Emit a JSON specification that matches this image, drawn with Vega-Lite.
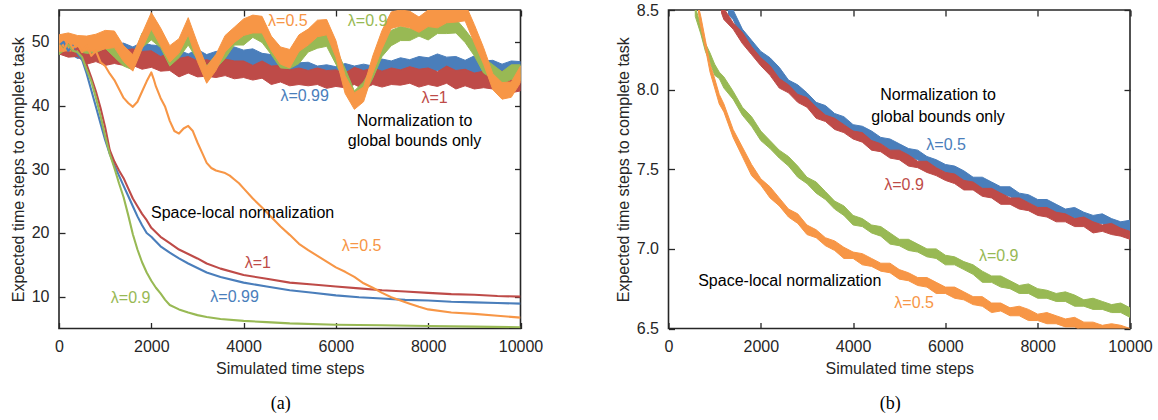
{
  "$schema": "https://vega.github.io/schema/vega-lite/v6.json",
  "padding": {"left": 9, "top": 1, "right": 0, "bottom": 0},
  "background": "white",
  "config": {
    "view": {"stroke": "#262626", "strokeWidth": 1.6},
    "font": "Liberation Sans",
    "axis": {
      "labelFont": "Liberation Sans", "labelFontSize": 16, "labelColor": "#262626",
      "titleFont": "Liberation Sans", "titleFontSize": 16, "titleFontWeight": "normal", "titleColor": "#262626",
      "domain": false, "grid": false, "tickColor": "#262626", "tickSize": -6, "tickWidth": 1.3,
      "labelPadding": 16, "labelFlush": false, "labelOverlap": false
    },
    "text": {"font": "Liberation Sans", "fontSize": 16, "align": "center", "baseline": "middle"}
  },
  "resolve": {"scale": {"color": "independent", "stroke": "independent"}},
  "hconcat": [
    {
      "width": 461.5, "height": 318.5,
      "title": {"text": "(a)", "orient": "bottom", "font": "Liberation Serif", "fontSize": 18, "fontWeight": "normal", "color": "black", "offset": 18, "dx": -9},
      "resolve": {"axis": {"x": "independent", "y": "independent"}},
      "layer": [
        {
          "encoding": {
            "x": {"field": "x", "type": "quantitative", "scale": {"domain": [0, 10000], "nice": false, "zero": false},
                  "axis": {"values": [0, 2000, 4000, 6000, 8000, 10000], "format": "d", "titlePadding": 6}, "title": "Simulated time steps"},
            "y": {"field": "y", "type": "quantitative", "scale": {"domain": [5, 55], "nice": false, "zero": false},
                  "axis": {"values": [10, 20, 30, 40, 50], "titlePadding": 5}, "title": "Expected time steps to complete task"}
          },
          "layer": [
            {
              "data": {"name": "leftBands"},
              "mark": {"type": "area", "clip": true, "strokeWidth": 1, "strokeJoin": "round"},
              "encoding": {
                "y2": {"field": "hi"},
                "color": {"field": "s", "type": "nominal", "legend": null,
                  "scale": {"domain": ["g0.99", "g1", "g0.9", "g0.5", "l0.99", "l1", "l0.9", "l0.5"], "range": ["#4a7ebb", "#be4b48", "#98b954", "#f79646", "#4a7ebb", "#be4b48", "#98b954", "#f79646"]}},
                "stroke": {"field": "s", "type": "nominal", "legend": null,
                  "scale": {"domain": ["g0.99", "g1", "g0.9", "g0.5", "l0.99", "l1", "l0.9", "l0.5"], "range": ["#4a7ebb", "#be4b48", "#98b954", "#f79646", "#4a7ebb", "#be4b48", "#98b954", "#f79646"]}}
              }
            },
            {
              "data": {"name": "leftLocal"},
              "mark": {"type": "line", "clip": true, "strokeWidth": 2.1, "strokeJoin": "round"},
              "encoding": {
                "color": {"field": "s", "type": "nominal", "legend": null,
                  "scale": {"domain": ["g0.99", "g1", "g0.9", "g0.5", "l0.99", "l1", "l0.9", "l0.5"], "range": ["#4a7ebb", "#be4b48", "#98b954", "#f79646", "#4a7ebb", "#be4b48", "#98b954", "#f79646"]}}
              }
            },
            {
              "data": {"name": "leftLabels"},
              "mark": {"type": "text"},
              "encoding": {
                "text": {"field": "t"},
                "color": {"field": "s", "type": "nominal", "legend": null,
                  "scale": {"domain": ["g0.99", "g1", "g0.9", "g0.5", "l0.99", "l1", "l0.9", "l0.5"], "range": ["#4a7ebb", "#be4b48", "#98b954", "#f79646", "#4a7ebb", "#be4b48", "#98b954", "#f79646"]}}
              }
            },
            {
              "data": {"name": "leftNotes"},
              "mark": {"type": "text", "color": "black"},
              "encoding": {"text": {"field": "t"}}
            }
          ]
        },
        {
          "data": {"name": "leftNotes"},
          "mark": {"type": "point", "opacity": 0},
          "encoding": {
            "x": {"field": "x", "type": "quantitative", "scale": {"domain": [0, 10000], "nice": false, "zero": false},
                  "axis": {"orient": "top", "values": [0, 2000, 4000, 6000, 8000, 10000], "labels": false, "title": null}},
            "y": {"field": "y", "type": "quantitative", "scale": {"domain": [5, 55], "nice": false, "zero": false},
                  "axis": {"orient": "right", "values": [10, 20, 30, 40, 50], "labels": false, "title": null}}
          }
        }
      ]
    },
    {
      "width": 461.5, "height": 318.5,
      "title": {"text": "(b)", "orient": "bottom", "font": "Liberation Serif", "fontSize": 18, "fontWeight": "normal", "color": "black", "offset": 18, "dx": -9},
      "resolve": {"axis": {"x": "independent", "y": "independent"}},
      "layer": [
        {
          "encoding": {
            "x": {"field": "x", "type": "quantitative", "scale": {"domain": [0, 10000], "nice": false, "zero": false},
                  "axis": {"values": [0, 2000, 4000, 6000, 8000, 10000], "format": "d", "titlePadding": 6}, "title": "Simulated time steps"},
            "y": {"field": "y", "type": "quantitative", "scale": {"domain": [6.5, 8.5], "nice": false, "zero": false},
                  "axis": {"values": [6.5, 7, 7.5, 8, 8.5], "format": ".1f", "titlePadding": 5}, "title": "Expected time steps to complete task"}
          },
          "layer": [
            {
              "data": {"name": "rightBands"},
              "mark": {"type": "area", "clip": true, "strokeWidth": 1, "strokeJoin": "round"},
              "encoding": {
                "y2": {"field": "hi"},
                "color": {"field": "s", "type": "nominal", "legend": null,
                  "scale": {"domain": ["g0.5", "g0.9", "l0.9", "l0.5"], "range": ["#4a7ebb", "#be4b48", "#98b954", "#f79646"]}},
                "stroke": {"field": "s", "type": "nominal", "legend": null,
                  "scale": {"domain": ["g0.5", "g0.9", "l0.9", "l0.5"], "range": ["#4a7ebb", "#be4b48", "#98b954", "#f79646"]}}
              }
            },
            {
              "data": {"name": "rightLabels"},
              "mark": {"type": "text"},
              "encoding": {
                "text": {"field": "t"},
                "color": {"field": "s", "type": "nominal", "legend": null,
                  "scale": {"domain": ["g0.5", "g0.9", "l0.9", "l0.5"], "range": ["#4a7ebb", "#be4b48", "#98b954", "#f79646"]}}
              }
            },
            {
              "data": {"name": "rightNotes"},
              "mark": {"type": "text", "color": "black"},
              "encoding": {"text": {"field": "t"}}
            }
          ]
        },
        {
          "data": {"name": "rightNotes"},
          "mark": {"type": "point", "opacity": 0},
          "encoding": {
            "x": {"field": "x", "type": "quantitative", "scale": {"domain": [0, 10000], "nice": false, "zero": false},
                  "axis": {"orient": "top", "values": [0, 2000, 4000, 6000, 8000, 10000], "labels": false, "title": null}},
            "y": {"field": "y", "type": "quantitative", "scale": {"domain": [6.5, 8.5], "nice": false, "zero": false},
                  "axis": {"orient": "right", "values": [6.5, 7, 7.5, 8, 8.5], "labels": false, "title": null}}
          }
        }
      ]
    }
  ],
  "spacing": 147.5,
  "bounds": "flush",
  "datasets": {
    "leftNotes": [
      {"t": "Normalization to", "x": 7705, "y": 37.6},
      {"t": "global bounds only", "x": 7705, "y": 34.4},
      {"t": "Space-local normalization", "x": 3978, "y": 23.1}
    ],
    "leftLabels": [
      {"s": "g0.5", "t": "λ=0.5", "x": 4960, "y": 53.2},
      {"s": "g0.9", "t": "λ=0.9", "x": 6687, "y": 53.2},
      {"s": "g0.99", "t": "λ=0.99", "x": 5322, "y": 41.5},
      {"s": "g1", "t": "λ=1", "x": 8139, "y": 41.2},
      {"s": "l0.5", "t": "λ=0.5", "x": 6557, "y": 18.0},
      {"s": "l1", "t": "λ=1", "x": 4308, "y": 15.3},
      {"s": "l0.99", "t": "λ=0.99", "x": 3805, "y": 9.9},
      {"s": "l0.9", "t": "λ=0.9", "x": 1551, "y": 9.8}
    ],
    "rightNotes": [
      {"t": "Normalization to", "x": 5840, "y": 7.965},
      {"t": "global bounds only", "x": 5840, "y": 7.83},
      {"t": "Space-local normalization", "x": 2628, "y": 6.8}
    ],
    "rightLabels": [
      {"s": "g0.5", "t": "λ=0.5", "x": 6015, "y": 7.655},
      {"s": "g0.9", "t": "λ=0.9", "x": 5103, "y": 7.4},
      {"s": "l0.9", "t": "λ=0.9", "x": 7155, "y": 6.955},
      {"s": "l0.5", "t": "λ=0.5", "x": 5322, "y": 6.66}
    ],
    "leftBands": [
      {"s":"g0.99","x":0,"y":48.2,"hi":50.6},{"s":"g0.99","x":200,"y":48.3,"hi":50.9},{"s":"g0.99","x":400,"y":47.4,"hi":50.2},{"s":"g0.99","x":600,"y":47.6,"hi":50.2},{"s":"g0.99","x":800,"y":47.2,"hi":49.5},{"s":"g0.99","x":1000,"y":47.7,"hi":50.4},{"s":"g0.99","x":1200,"y":46.8,"hi":49.7},{"s":"g0.99","x":1400,"y":47.2,"hi":49.8},{"s":"g0.99","x":1600,"y":46.7,"hi":49.2},{"s":"g0.99","x":1800,"y":47.3,"hi":49.9},
      {"s":"g0.99","x":2000,"y":47.1,"hi":49.5},{"s":"g0.99","x":2200,"y":46.8,"hi":49.4},{"s":"g0.99","x":2400,"y":45.8,"hi":48.6},{"s":"g0.99","x":2600,"y":46.1,"hi":48.7},{"s":"g0.99","x":2800,"y":45.8,"hi":48.1},{"s":"g0.99","x":3000,"y":46.1,"hi":48.8},{"s":"g0.99","x":3200,"y":45.1,"hi":48.0},{"s":"g0.99","x":3400,"y":45.9,"hi":48.5},{"s":"g0.99","x":3600,"y":46.0,"hi":48.5},{"s":"g0.99","x":3800,"y":46.6,"hi":49.2},
      {"s":"g0.99","x":4000,"y":46.3,"hi":48.7},{"s":"g0.99","x":4200,"y":46.3,"hi":48.9},{"s":"g0.99","x":4400,"y":45.4,"hi":48.2},{"s":"g0.99","x":4600,"y":45.4,"hi":48.0},{"s":"g0.99","x":4800,"y":44.8,"hi":47.1},{"s":"g0.99","x":5000,"y":44.9,"hi":47.6},{"s":"g0.99","x":5200,"y":43.8,"hi":46.7},{"s":"g0.99","x":5400,"y":44.2,"hi":46.8},{"s":"g0.99","x":5600,"y":43.7,"hi":46.2},{"s":"g0.99","x":5800,"y":43.8,"hi":46.4},
      {"s":"g0.99","x":6000,"y":43.7,"hi":46.1},{"s":"g0.99","x":6200,"y":44.0,"hi":46.6},{"s":"g0.99","x":6400,"y":43.4,"hi":46.2},{"s":"g0.99","x":6600,"y":43.9,"hi":46.5},{"s":"g0.99","x":6800,"y":43.9,"hi":46.2},{"s":"g0.99","x":7000,"y":44.6,"hi":47.3},{"s":"g0.99","x":7200,"y":44.1,"hi":47.0},{"s":"g0.99","x":7400,"y":44.9,"hi":47.5},{"s":"g0.99","x":7600,"y":44.7,"hi":47.2},{"s":"g0.99","x":7800,"y":45.1,"hi":47.7},
      {"s":"g0.99","x":8000,"y":45.1,"hi":47.5},{"s":"g0.99","x":8200,"y":45.5,"hi":48.1},{"s":"g0.99","x":8400,"y":44.8,"hi":47.6},{"s":"g0.99","x":8600,"y":45.1,"hi":47.7},{"s":"g0.99","x":8800,"y":44.8,"hi":47.1},{"s":"g0.99","x":9000,"y":45.1,"hi":47.8},{"s":"g0.99","x":9200,"y":44.1,"hi":47.0},{"s":"g0.99","x":9400,"y":44.5,"hi":47.1},{"s":"g0.99","x":9600,"y":44.0,"hi":46.5},{"s":"g0.99","x":9800,"y":44.4,"hi":47.0},{"s":"g0.99","x":10000,"y":44.5,"hi":46.9},
      {"s":"g1","x":0,"y":48.1,"hi":50.7},{"s":"g1","x":200,"y":47.6,"hi":49.9},{"s":"g1","x":400,"y":47.7,"hi":50.4},{"s":"g1","x":600,"y":46.5,"hi":49.4},{"s":"g1","x":800,"y":46.9,"hi":49.5},{"s":"g1","x":1000,"y":46.3,"hi":48.8},{"s":"g1","x":1200,"y":46.6,"hi":49.2},{"s":"g1","x":1400,"y":46.3,"hi":48.7},{"s":"g1","x":1600,"y":46.3,"hi":48.9},{"s":"g1","x":1800,"y":45.7,"hi":48.5},
      {"s":"g1","x":2000,"y":46.0,"hi":48.6},{"s":"g1","x":2200,"y":45.4,"hi":47.7},{"s":"g1","x":2400,"y":45.5,"hi":48.2},{"s":"g1","x":2600,"y":44.5,"hi":47.4},{"s":"g1","x":2800,"y":45.1,"hi":47.7},{"s":"g1","x":3000,"y":44.5,"hi":47.0},{"s":"g1","x":3200,"y":44.6,"hi":47.2},{"s":"g1","x":3400,"y":44.4,"hi":46.8},{"s":"g1","x":3600,"y":44.7,"hi":47.3},{"s":"g1","x":3800,"y":44.2,"hi":47.0},
      {"s":"g1","x":4000,"y":44.4,"hi":47.0},{"s":"g1","x":4200,"y":44.0,"hi":46.3},{"s":"g1","x":4400,"y":44.3,"hi":47.0},{"s":"g1","x":4600,"y":43.3,"hi":46.2},{"s":"g1","x":4800,"y":43.7,"hi":46.3},{"s":"g1","x":5000,"y":43.1,"hi":45.6},{"s":"g1","x":5200,"y":43.3,"hi":45.9},{"s":"g1","x":5400,"y":43.1,"hi":45.5},{"s":"g1","x":5600,"y":43.3,"hi":45.9},{"s":"g1","x":5800,"y":42.7,"hi":45.5},
      {"s":"g1","x":6000,"y":43.0,"hi":45.6},{"s":"g1","x":6200,"y":42.8,"hi":45.1},{"s":"g1","x":6400,"y":43.3,"hi":46.0},{"s":"g1","x":6600,"y":42.6,"hi":45.5},{"s":"g1","x":6800,"y":43.3,"hi":45.9},{"s":"g1","x":7000,"y":42.9,"hi":45.4},{"s":"g1","x":7200,"y":43.3,"hi":45.9},{"s":"g1","x":7400,"y":43.2,"hi":45.6},{"s":"g1","x":7600,"y":43.5,"hi":46.1},{"s":"g1","x":7800,"y":42.9,"hi":45.7},
      {"s":"g1","x":8000,"y":43.3,"hi":45.9},{"s":"g1","x":8200,"y":43.0,"hi":45.3},{"s":"g1","x":8400,"y":43.5,"hi":46.2},{"s":"g1","x":8600,"y":42.6,"hi":45.5},{"s":"g1","x":8800,"y":43.1,"hi":45.7},{"s":"g1","x":9000,"y":42.6,"hi":45.1},{"s":"g1","x":9200,"y":42.8,"hi":45.4},{"s":"g1","x":9400,"y":42.6,"hi":45.0},{"s":"g1","x":9600,"y":42.8,"hi":45.4},{"s":"g1","x":9800,"y":42.0,"hi":44.8},{"s":"g1","x":10000,"y":42.3,"hi":44.9},
      {"s":"g0.9","x":0,"y":48.0,"hi":50.5},{"s":"g0.9","x":200,"y":49.1,"hi":51.3},{"s":"g0.9","x":400,"y":48.5,"hi":50.6},{"s":"g0.9","x":600,"y":48.2,"hi":50.4},{"s":"g0.9","x":800,"y":48.3,"hi":50.3},{"s":"g0.9","x":1000,"y":49.0,"hi":51.2},{"s":"g0.9","x":1200,"y":47.6,"hi":50.0},{"s":"g0.9","x":1400,"y":46.2,"hi":48.4},{"s":"g0.9","x":1600,"y":45.6,"hi":47.5},{"s":"g0.9","x":1800,"y":49.1,"hi":51.4},
      {"s":"g0.9","x":2000,"y":50.3,"hi":52.8},{"s":"g0.9","x":2200,"y":49.1,"hi":51.3},{"s":"g0.9","x":2400,"y":46.2,"hi":48.3},{"s":"g0.9","x":2600,"y":47.5,"hi":49.7},{"s":"g0.9","x":2800,"y":49.5,"hi":51.5},{"s":"g0.9","x":3000,"y":47.2,"hi":49.4},{"s":"g0.9","x":3200,"y":43.8,"hi":46.2},{"s":"g0.9","x":3400,"y":45.8,"hi":48.0},{"s":"g0.9","x":3600,"y":47.4,"hi":49.3},{"s":"g0.9","x":3800,"y":49.5,"hi":51.8},
      {"s":"g0.9","x":4000,"y":49.5,"hi":52.0},{"s":"g0.9","x":4200,"y":50.7,"hi":52.9},{"s":"g0.9","x":4400,"y":49.9,"hi":52.0},{"s":"g0.9","x":4600,"y":48.0,"hi":50.2},{"s":"g0.9","x":4800,"y":45.9,"hi":47.9},{"s":"g0.9","x":5000,"y":45.8,"hi":48.0},{"s":"g0.9","x":5200,"y":46.6,"hi":49.0},{"s":"g0.9","x":5400,"y":48.4,"hi":50.6},{"s":"g0.9","x":5600,"y":49.0,"hi":50.9},{"s":"g0.9","x":5800,"y":49.3,"hi":51.6},
      {"s":"g0.9","x":6000,"y":46.5,"hi":49.0},{"s":"g0.9","x":6200,"y":43.6,"hi":45.8},{"s":"g0.9","x":6400,"y":40.2,"hi":42.3},{"s":"g0.9","x":6600,"y":41.5,"hi":43.7},{"s":"g0.9","x":6800,"y":44.3,"hi":46.3},{"s":"g0.9","x":7000,"y":47.7,"hi":49.9},{"s":"g0.9","x":7200,"y":49.4,"hi":51.8},{"s":"g0.9","x":7400,"y":50.2,"hi":52.4},{"s":"g0.9","x":7600,"y":50.2,"hi":52.1},{"s":"g0.9","x":7800,"y":50.9,"hi":53.2},
      {"s":"g0.9","x":8000,"y":50.3,"hi":52.8},{"s":"g0.9","x":8200,"y":51.3,"hi":53.5},{"s":"g0.9","x":8400,"y":51.3,"hi":53.4},{"s":"g0.9","x":8600,"y":51.4,"hi":53.6},{"s":"g0.9","x":8800,"y":49.9,"hi":51.9},{"s":"g0.9","x":9000,"y":47.8,"hi":50.0},{"s":"g0.9","x":9200,"y":45.1,"hi":47.5},{"s":"g0.9","x":9400,"y":44.2,"hi":46.4},{"s":"g0.9","x":9600,"y":43.4,"hi":45.3},{"s":"g0.9","x":9800,"y":44.1,"hi":46.4},{"s":"g0.9","x":10000,"y":43.9,"hi":46.4},
      {"s":"g0.5","x":0,"y":48.5,"hi":51.1},{"s":"g0.5","x":200,"y":48.6,"hi":51.4},{"s":"g0.5","x":400,"y":48.4,"hi":51.0},{"s":"g0.5","x":600,"y":48.6,"hi":50.9},{"s":"g0.5","x":800,"y":48.5,"hi":51.2},{"s":"g0.5","x":1000,"y":48.9,"hi":51.8},{"s":"g0.5","x":1200,"y":49.1,"hi":51.7},{"s":"g0.5","x":1400,"y":46.9,"hi":49.4},{"s":"g0.5","x":1600,"y":45.4,"hi":48.0},{"s":"g0.5","x":1800,"y":48.9,"hi":51.3},
      {"s":"g0.5","x":2000,"y":52.0,"hi":54.6},{"s":"g0.5","x":2200,"y":49.4,"hi":52.2},{"s":"g0.5","x":2400,"y":46.8,"hi":49.4},{"s":"g0.5","x":2600,"y":48.2,"hi":50.5},{"s":"g0.5","x":2800,"y":51.1,"hi":53.8},{"s":"g0.5","x":3000,"y":46.9,"hi":49.8},{"s":"g0.5","x":3200,"y":43.5,"hi":46.1},{"s":"g0.5","x":3400,"y":45.5,"hi":48.0},{"s":"g0.5","x":3600,"y":48.4,"hi":51.0},{"s":"g0.5","x":3800,"y":49.9,"hi":52.3},
      {"s":"g0.5","x":4000,"y":51.0,"hi":53.6},{"s":"g0.5","x":4200,"y":51.4,"hi":54.2},{"s":"g0.5","x":4400,"y":51.4,"hi":54.0},{"s":"g0.5","x":4600,"y":48.6,"hi":50.9},{"s":"g0.5","x":4800,"y":46.5,"hi":49.2},{"s":"g0.5","x":5000,"y":45.9,"hi":48.8},{"s":"g0.5","x":5200,"y":48.5,"hi":51.1},{"s":"g0.5","x":5400,"y":49.5,"hi":52.0},{"s":"g0.5","x":5600,"y":50.8,"hi":53.4},{"s":"g0.5","x":5800,"y":51.1,"hi":53.5},
      {"s":"g0.5","x":6000,"y":47.6,"hi":50.2},{"s":"g0.5","x":6200,"y":41.9,"hi":44.7},{"s":"g0.5","x":6400,"y":39.4,"hi":42.0},{"s":"g0.5","x":6600,"y":40.6,"hi":42.9},{"s":"g0.5","x":6800,"y":45.1,"hi":47.8},{"s":"g0.5","x":7000,"y":48.9,"hi":51.8},{"s":"g0.5","x":7200,"y":52.1,"hi":54.7},{"s":"g0.5","x":7400,"y":52.5,"hi":55.0},{"s":"g0.5","x":7600,"y":52.2,"hi":54.8},{"s":"g0.5","x":7800,"y":51.5,"hi":53.9},
      {"s":"g0.5","x":8000,"y":52.4,"hi":55.0},{"s":"g0.5","x":8200,"y":52.2,"hi":55.0},{"s":"g0.5","x":8400,"y":53.0,"hi":55.6},{"s":"g0.5","x":8600,"y":53.1,"hi":55.4},{"s":"g0.5","x":8800,"y":53.3,"hi":56.0},{"s":"g0.5","x":9000,"y":49.8,"hi":52.7},{"s":"g0.5","x":9200,"y":46.5,"hi":49.1},{"s":"g0.5","x":9400,"y":42.5,"hi":45.0},{"s":"g0.5","x":9600,"y":41.0,"hi":43.6},{"s":"g0.5","x":9800,"y":41.3,"hi":43.7},{"s":"g0.5","x":10000,"y":43.6,"hi":46.2}
    ],
    "leftLocal": [
      {"s":"l0.99","x":0,"y":49.4},{"s":"l0.99","x":100,"y":50.0},{"s":"l0.99","x":200,"y":48.6},{"s":"l0.99","x":300,"y":49.4},{"s":"l0.99","x":400,"y":48.2},{"s":"l0.99","x":500,"y":47.2},{"s":"l0.99","x":600,"y":45.0},{"s":"l0.99","x":700,"y":42.4},{"s":"l0.99","x":800,"y":39.8},{"s":"l0.99","x":900,"y":37.2},{"s":"l0.99","x":1000,"y":34.6},{"s":"l0.99","x":1100,"y":32.4},{"s":"l0.99","x":1200,"y":30.6},{"s":"l0.99","x":1300,"y":29.0},{"s":"l0.99","x":1400,"y":27.4},{"s":"l0.99","x":1500,"y":25.8},{"s":"l0.99","x":1600,"y":24.2},{"s":"l0.99","x":1700,"y":22.6},{"s":"l0.99","x":1800,"y":21.2},{"s":"l0.99","x":1900,"y":20.0},{"s":"l0.99","x":2000,"y":19.4},{"s":"l0.99","x":2200,"y":17.9},{"s":"l0.99","x":2400,"y":16.9},{"s":"l0.99","x":2600,"y":16.0},{"s":"l0.99","x":2800,"y":15.2},{"s":"l0.99","x":3000,"y":14.5},{"s":"l0.99","x":3200,"y":13.8},{"s":"l0.99","x":3500,"y":13.1},{"s":"l0.99","x":4000,"y":12.2},{"s":"l0.99","x":4500,"y":11.6},{"s":"l0.99","x":5000,"y":11.0},{"s":"l0.99","x":5500,"y":10.6},{"s":"l0.99","x":6000,"y":10.2},{"s":"l0.99","x":6500,"y":9.9},{"s":"l0.99","x":7000,"y":9.7},{"s":"l0.99","x":7500,"y":9.5},{"s":"l0.99","x":8000,"y":9.4},{"s":"l0.99","x":8500,"y":9.2},{"s":"l0.99","x":9000,"y":9.1},{"s":"l0.99","x":9500,"y":9.0},{"s":"l0.99","x":10000,"y":8.9},
      {"s":"l1","x":0,"y":49.6},{"s":"l1","x":100,"y":48.8},{"s":"l1","x":200,"y":49.8},{"s":"l1","x":300,"y":48.4},{"s":"l1","x":400,"y":49.0},{"s":"l1","x":500,"y":47.8},{"s":"l1","x":600,"y":46.4},{"s":"l1","x":700,"y":44.4},{"s":"l1","x":800,"y":42.2},{"s":"l1","x":900,"y":39.6},{"s":"l1","x":1000,"y":36.6},{"s":"l1","x":1100,"y":33.0},{"s":"l1","x":1200,"y":31.2},{"s":"l1","x":1300,"y":29.8},{"s":"l1","x":1400,"y":28.6},{"s":"l1","x":1500,"y":27.0},{"s":"l1","x":1600,"y":25.4},{"s":"l1","x":1700,"y":24.2},{"s":"l1","x":1800,"y":23.0},{"s":"l1","x":1900,"y":22.0},{"s":"l1","x":2000,"y":20.8},{"s":"l1","x":2200,"y":19.4},{"s":"l1","x":2400,"y":18.4},{"s":"l1","x":2600,"y":17.4},{"s":"l1","x":2800,"y":16.7},{"s":"l1","x":3000,"y":16.0},{"s":"l1","x":3200,"y":15.2},{"s":"l1","x":3500,"y":14.4},{"s":"l1","x":4000,"y":13.4},{"s":"l1","x":4500,"y":12.8},{"s":"l1","x":5000,"y":12.2},{"s":"l1","x":5500,"y":11.9},{"s":"l1","x":6000,"y":11.6},{"s":"l1","x":6500,"y":11.3},{"s":"l1","x":7000,"y":11.0},{"s":"l1","x":7500,"y":10.8},{"s":"l1","x":8000,"y":10.6},{"s":"l1","x":8500,"y":10.4},{"s":"l1","x":9000,"y":10.3},{"s":"l1","x":9500,"y":10.1},{"s":"l1","x":10000,"y":10.0},
      {"s":"l0.9","x":0,"y":49.6},{"s":"l0.9","x":100,"y":48.8},{"s":"l0.9","x":200,"y":49.6},{"s":"l0.9","x":300,"y":48.6},{"s":"l0.9","x":400,"y":48.4},{"s":"l0.9","x":500,"y":47.6},{"s":"l0.9","x":600,"y":45.6},{"s":"l0.9","x":700,"y":43.8},{"s":"l0.9","x":800,"y":41.2},{"s":"l0.9","x":900,"y":38.4},{"s":"l0.9","x":1000,"y":35.2},{"s":"l0.9","x":1100,"y":32.4},{"s":"l0.9","x":1200,"y":30.2},{"s":"l0.9","x":1300,"y":27.8},{"s":"l0.9","x":1400,"y":25.6},{"s":"l0.9","x":1500,"y":22.8},{"s":"l0.9","x":1600,"y":19.8},{"s":"l0.9","x":1700,"y":17.4},{"s":"l0.9","x":1800,"y":15.4},{"s":"l0.9","x":1900,"y":13.8},{"s":"l0.9","x":2000,"y":12.5},{"s":"l0.9","x":2100,"y":11.4},{"s":"l0.9","x":2200,"y":10.5},{"s":"l0.9","x":2300,"y":9.5},{"s":"l0.9","x":2400,"y":8.7},{"s":"l0.9","x":2600,"y":8.0},{"s":"l0.9","x":2800,"y":7.5},{"s":"l0.9","x":3000,"y":7.1},{"s":"l0.9","x":3200,"y":6.8},{"s":"l0.9","x":3500,"y":6.5},{"s":"l0.9","x":4000,"y":6.2},{"s":"l0.9","x":4500,"y":6.0},{"s":"l0.9","x":5000,"y":5.8},{"s":"l0.9","x":6000,"y":5.6},{"s":"l0.9","x":7000,"y":5.5},{"s":"l0.9","x":8000,"y":5.4},{"s":"l0.9","x":9000,"y":5.3},{"s":"l0.9","x":10000,"y":5.2},
      {"s":"l0.5","x":0,"y":49.5},{"s":"l0.5","x":100,"y":48.6},{"s":"l0.5","x":200,"y":50.2},{"s":"l0.5","x":300,"y":49.0},{"s":"l0.5","x":400,"y":49.8},{"s":"l0.5","x":500,"y":48.4},{"s":"l0.5","x":600,"y":49.4},{"s":"l0.5","x":700,"y":47.8},{"s":"l0.5","x":800,"y":48.6},{"s":"l0.5","x":900,"y":46.8},{"s":"l0.5","x":1000,"y":46.2},{"s":"l0.5","x":1100,"y":45.0},{"s":"l0.5","x":1200,"y":44.0},{"s":"l0.5","x":1300,"y":42.6},{"s":"l0.5","x":1400,"y":41.2},{"s":"l0.5","x":1500,"y":40.4},{"s":"l0.5","x":1600,"y":39.8},{"s":"l0.5","x":1700,"y":40.6},{"s":"l0.5","x":1800,"y":42.2},{"s":"l0.5","x":1900,"y":43.8},{"s":"l0.5","x":2000,"y":45.2},{"s":"l0.5","x":2050,"y":44.2},{"s":"l0.5","x":2100,"y":43.0},{"s":"l0.5","x":2200,"y":41.2},{"s":"l0.5","x":2300,"y":39.8},{"s":"l0.5","x":2400,"y":37.6},{"s":"l0.5","x":2500,"y":36.0},{"s":"l0.5","x":2600,"y":35.6},{"s":"l0.5","x":2700,"y":36.4},{"s":"l0.5","x":2800,"y":36.8},{"s":"l0.5","x":2900,"y":36.0},{"s":"l0.5","x":3000,"y":34.2},{"s":"l0.5","x":3100,"y":32.6},{"s":"l0.5","x":3200,"y":31.0},{"s":"l0.5","x":3300,"y":30.2},{"s":"l0.5","x":3400,"y":29.8},{"s":"l0.5","x":3500,"y":29.6},{"s":"l0.5","x":3600,"y":29.4},{"s":"l0.5","x":3700,"y":29.0},{"s":"l0.5","x":3800,"y":28.4},{"s":"l0.5","x":3900,"y":27.8},{"s":"l0.5","x":4000,"y":27.0},{"s":"l0.5","x":4200,"y":25.4},{"s":"l0.5","x":4400,"y":24.0},{"s":"l0.5","x":4600,"y":22.5},{"s":"l0.5","x":4800,"y":21.0},{"s":"l0.5","x":5000,"y":19.7},{"s":"l0.5","x":5200,"y":18.3},{"s":"l0.5","x":5400,"y":17.3},{"s":"l0.5","x":5600,"y":16.4},{"s":"l0.5","x":5800,"y":15.5},{"s":"l0.5","x":6000,"y":14.6},{"s":"l0.5","x":6200,"y":13.9},{"s":"l0.5","x":6400,"y":13.1},{"s":"l0.5","x":6600,"y":12.1},{"s":"l0.5","x":6800,"y":11.4},{"s":"l0.5","x":7000,"y":10.6},{"s":"l0.5","x":7200,"y":9.9},{"s":"l0.5","x":7400,"y":9.4},{"s":"l0.5","x":7600,"y":8.9},{"s":"l0.5","x":7800,"y":8.4},{"s":"l0.5","x":8000,"y":8.0},{"s":"l0.5","x":8500,"y":7.5},{"s":"l0.5","x":9000,"y":7.3},{"s":"l0.5","x":9500,"y":7.0},{"s":"l0.5","x":10000,"y":6.7}
    ],
    "rightBands": [
      {"s":"g0.5","x":1300,"y":8.47,"hi":8.52},{"s":"g0.5","x":1400,"y":8.44,"hi":8.50},{"s":"g0.5","x":1600,"y":8.32,"hi":8.38},{"s":"g0.5","x":1800,"y":8.26,"hi":8.31},{"s":"g0.5","x":2000,"y":8.19,"hi":8.24},{"s":"g0.5","x":2200,"y":8.14,"hi":8.20},{"s":"g0.5","x":2400,"y":8.07,"hi":8.14},{"s":"g0.5","x":2600,"y":8.02,"hi":8.06},{"s":"g0.5","x":2800,"y":7.96,"hi":8.03},{"s":"g0.5","x":3000,"y":7.93,"hi":7.98},
      {"s":"g0.5","x":3200,"y":7.87,"hi":7.92},{"s":"g0.5","x":3400,"y":7.84,"hi":7.90},{"s":"g0.5","x":3600,"y":7.79,"hi":7.85},{"s":"g0.5","x":3800,"y":7.78,"hi":7.83},{"s":"g0.5","x":4000,"y":7.73,"hi":7.78},{"s":"g0.5","x":4200,"y":7.71,"hi":7.77},{"s":"g0.5","x":4400,"y":7.67,"hi":7.74},{"s":"g0.5","x":4600,"y":7.66,"hi":7.70},{"s":"g0.5","x":4800,"y":7.62,"hi":7.69},{"s":"g0.5","x":5000,"y":7.61,"hi":7.66},
      {"s":"g0.5","x":5200,"y":7.58,"hi":7.63},{"s":"g0.5","x":5400,"y":7.56,"hi":7.62},{"s":"g0.5","x":5600,"y":7.52,"hi":7.58},{"s":"g0.5","x":5800,"y":7.51,"hi":7.56},{"s":"g0.5","x":6000,"y":7.48,"hi":7.53},{"s":"g0.5","x":6200,"y":7.46,"hi":7.52},{"s":"g0.5","x":6400,"y":7.42,"hi":7.49},{"s":"g0.5","x":6600,"y":7.41,"hi":7.45},{"s":"g0.5","x":6800,"y":7.38,"hi":7.45},{"s":"g0.5","x":7000,"y":7.37,"hi":7.42},
      {"s":"g0.5","x":7200,"y":7.34,"hi":7.39},{"s":"g0.5","x":7400,"y":7.33,"hi":7.39},{"s":"g0.5","x":7600,"y":7.29,"hi":7.35},{"s":"g0.5","x":7800,"y":7.29,"hi":7.34},{"s":"g0.5","x":8000,"y":7.26,"hi":7.31},{"s":"g0.5","x":8200,"y":7.25,"hi":7.31},{"s":"g0.5","x":8400,"y":7.21,"hi":7.28},{"s":"g0.5","x":8600,"y":7.21,"hi":7.25},{"s":"g0.5","x":8800,"y":7.19,"hi":7.26},{"s":"g0.5","x":9000,"y":7.18,"hi":7.23},
      {"s":"g0.5","x":9200,"y":7.16,"hi":7.21},{"s":"g0.5","x":9400,"y":7.16,"hi":7.22},{"s":"g0.5","x":9600,"y":7.12,"hi":7.19},{"s":"g0.5","x":9800,"y":7.13,"hi":7.17},{"s":"g0.5","x":10000,"y":7.11,"hi":7.18},
      {"s":"g0.9","x":1150,"y":8.48,"hi":8.54},{"s":"g0.9","x":1200,"y":8.44,"hi":8.51},{"s":"g0.9","x":1400,"y":8.38,"hi":8.42},{"s":"g0.9","x":1600,"y":8.29,"hi":8.36},{"s":"g0.9","x":1800,"y":8.22,"hi":8.27},{"s":"g0.9","x":2000,"y":8.15,"hi":8.20},{"s":"g0.9","x":2200,"y":8.09,"hi":8.15},{"s":"g0.9","x":2400,"y":8.01,"hi":8.07},{"s":"g0.9","x":2600,"y":7.98,"hi":8.03},{"s":"g0.9","x":2800,"y":7.92,"hi":7.97},
      {"s":"g0.9","x":3000,"y":7.89,"hi":7.95},{"s":"g0.9","x":3200,"y":7.82,"hi":7.89},{"s":"g0.9","x":3400,"y":7.80,"hi":7.84},{"s":"g0.9","x":3600,"y":7.75,"hi":7.82},{"s":"g0.9","x":3800,"y":7.73,"hi":7.78},{"s":"g0.9","x":4000,"y":7.69,"hi":7.74},{"s":"g0.9","x":4200,"y":7.67,"hi":7.73},{"s":"g0.9","x":4400,"y":7.62,"hi":7.68},{"s":"g0.9","x":4600,"y":7.61,"hi":7.66},{"s":"g0.9","x":4800,"y":7.57,"hi":7.62},
      {"s":"g0.9","x":5000,"y":7.56,"hi":7.62},{"s":"g0.9","x":5200,"y":7.52,"hi":7.59},{"s":"g0.9","x":5400,"y":7.51,"hi":7.55},{"s":"g0.9","x":5600,"y":7.48,"hi":7.55},{"s":"g0.9","x":5800,"y":7.46,"hi":7.51},{"s":"g0.9","x":6000,"y":7.43,"hi":7.48},{"s":"g0.9","x":6200,"y":7.41,"hi":7.47},{"s":"g0.9","x":6400,"y":7.37,"hi":7.43},{"s":"g0.9","x":6600,"y":7.37,"hi":7.42},{"s":"g0.9","x":6800,"y":7.33,"hi":7.38},
      {"s":"g0.9","x":7000,"y":7.32,"hi":7.38},{"s":"g0.9","x":7200,"y":7.28,"hi":7.35},{"s":"g0.9","x":7400,"y":7.28,"hi":7.32},{"s":"g0.9","x":7600,"y":7.25,"hi":7.32},{"s":"g0.9","x":7800,"y":7.24,"hi":7.29},{"s":"g0.9","x":8000,"y":7.21,"hi":7.26},{"s":"g0.9","x":8200,"y":7.20,"hi":7.26},{"s":"g0.9","x":8400,"y":7.17,"hi":7.23},{"s":"g0.9","x":8600,"y":7.17,"hi":7.22},{"s":"g0.9","x":8800,"y":7.14,"hi":7.19},
      {"s":"g0.9","x":9000,"y":7.14,"hi":7.20},{"s":"g0.9","x":9200,"y":7.10,"hi":7.17},{"s":"g0.9","x":9400,"y":7.11,"hi":7.15},{"s":"g0.9","x":9600,"y":7.09,"hi":7.16},{"s":"g0.9","x":9800,"y":7.08,"hi":7.13},{"s":"g0.9","x":10000,"y":7.06,"hi":7.11},
      {"s":"l0.9","x":580,"y":8.46,"hi":8.52},{"s":"l0.9","x":700,"y":8.35,"hi":8.40},{"s":"l0.9","x":800,"y":8.24,"hi":8.29},{"s":"l0.9","x":900,"y":8.17,"hi":8.23},{"s":"l0.9","x":1000,"y":8.09,"hi":8.16},{"s":"l0.9","x":1100,"y":8.07,"hi":8.11},{"s":"l0.9","x":1200,"y":8.01,"hi":8.08},{"s":"l0.9","x":1400,"y":7.94,"hi":7.99},{"s":"l0.9","x":1600,"y":7.84,"hi":7.89},{"s":"l0.9","x":1800,"y":7.77,"hi":7.83},
      {"s":"l0.9","x":2000,"y":7.68,"hi":7.74},{"s":"l0.9","x":2200,"y":7.63,"hi":7.68},{"s":"l0.9","x":2400,"y":7.57,"hi":7.62},{"s":"l0.9","x":2600,"y":7.52,"hi":7.58},{"s":"l0.9","x":2800,"y":7.45,"hi":7.52},{"s":"l0.9","x":3000,"y":7.41,"hi":7.45},{"s":"l0.9","x":3200,"y":7.35,"hi":7.42},{"s":"l0.9","x":3400,"y":7.31,"hi":7.36},{"s":"l0.9","x":3600,"y":7.25,"hi":7.30},{"s":"l0.9","x":3800,"y":7.21,"hi":7.27},
      {"s":"l0.9","x":4000,"y":7.15,"hi":7.21},{"s":"l0.9","x":4200,"y":7.14,"hi":7.19},{"s":"l0.9","x":4400,"y":7.10,"hi":7.15},{"s":"l0.9","x":4600,"y":7.08,"hi":7.14},{"s":"l0.9","x":4800,"y":7.03,"hi":7.10},{"s":"l0.9","x":5000,"y":7.02,"hi":7.06},{"s":"l0.9","x":5200,"y":6.99,"hi":7.06},{"s":"l0.9","x":5400,"y":6.98,"hi":7.03},{"s":"l0.9","x":5600,"y":6.95,"hi":7.00},{"s":"l0.9","x":5800,"y":6.94,"hi":7.00},
      {"s":"l0.9","x":6000,"y":6.90,"hi":6.96},{"s":"l0.9","x":6200,"y":6.90,"hi":6.95},{"s":"l0.9","x":6400,"y":6.87,"hi":6.92},{"s":"l0.9","x":6600,"y":6.84,"hi":6.90},{"s":"l0.9","x":6800,"y":6.79,"hi":6.86},{"s":"l0.9","x":7000,"y":6.79,"hi":6.83},{"s":"l0.9","x":7200,"y":6.76,"hi":6.83},{"s":"l0.9","x":7400,"y":6.75,"hi":6.80},{"s":"l0.9","x":7600,"y":6.72,"hi":6.77},{"s":"l0.9","x":7800,"y":6.72,"hi":6.78},
      {"s":"l0.9","x":8000,"y":6.69,"hi":6.75},{"s":"l0.9","x":8200,"y":6.69,"hi":6.74},{"s":"l0.9","x":8400,"y":6.67,"hi":6.72},{"s":"l0.9","x":8600,"y":6.67,"hi":6.73},{"s":"l0.9","x":8800,"y":6.64,"hi":6.71},{"s":"l0.9","x":9000,"y":6.64,"hi":6.68},{"s":"l0.9","x":9200,"y":6.62,"hi":6.69},{"s":"l0.9","x":9400,"y":6.62,"hi":6.67},{"s":"l0.9","x":9600,"y":6.60,"hi":6.65},{"s":"l0.9","x":9800,"y":6.60,"hi":6.66},{"s":"l0.9","x":10000,"y":6.57,"hi":6.63},
      {"s":"l0.5","x":650,"y":8.48,"hi":8.52},{"s":"l0.5","x":700,"y":8.39,"hi":8.46},{"s":"l0.5","x":800,"y":8.26,"hi":8.31},{"s":"l0.5","x":900,"y":8.11,"hi":8.16},{"s":"l0.5","x":1000,"y":8.01,"hi":8.07},{"s":"l0.5","x":1100,"y":7.91,"hi":7.97},{"s":"l0.5","x":1200,"y":7.86,"hi":7.91},{"s":"l0.5","x":1400,"y":7.70,"hi":7.75},{"s":"l0.5","x":1600,"y":7.58,"hi":7.64},{"s":"l0.5","x":1800,"y":7.46,"hi":7.53},
      {"s":"l0.5","x":2000,"y":7.40,"hi":7.44},{"s":"l0.5","x":2200,"y":7.32,"hi":7.39},{"s":"l0.5","x":2400,"y":7.27,"hi":7.32},{"s":"l0.5","x":2600,"y":7.20,"hi":7.25},{"s":"l0.5","x":2800,"y":7.16,"hi":7.22},{"s":"l0.5","x":3000,"y":7.09,"hi":7.15},{"s":"l0.5","x":3200,"y":7.07,"hi":7.12},{"s":"l0.5","x":3400,"y":7.02,"hi":7.07},{"s":"l0.5","x":3600,"y":6.99,"hi":7.05},{"s":"l0.5","x":3800,"y":6.94,"hi":7.01},
      {"s":"l0.5","x":4000,"y":6.94,"hi":6.98},{"s":"l0.5","x":4200,"y":6.90,"hi":6.97},{"s":"l0.5","x":4400,"y":6.89,"hi":6.94},{"s":"l0.5","x":4600,"y":6.86,"hi":6.91},{"s":"l0.5","x":4800,"y":6.85,"hi":6.91},{"s":"l0.5","x":5000,"y":6.81,"hi":6.87},{"s":"l0.5","x":5200,"y":6.80,"hi":6.85},{"s":"l0.5","x":5400,"y":6.77,"hi":6.82},{"s":"l0.5","x":5600,"y":6.76,"hi":6.82},{"s":"l0.5","x":5800,"y":6.72,"hi":6.79},
      {"s":"l0.5","x":6000,"y":6.72,"hi":6.76},{"s":"l0.5","x":6200,"y":6.69,"hi":6.76},{"s":"l0.5","x":6400,"y":6.68,"hi":6.73},{"s":"l0.5","x":6600,"y":6.65,"hi":6.70},{"s":"l0.5","x":6800,"y":6.64,"hi":6.70},{"s":"l0.5","x":7000,"y":6.60,"hi":6.66},{"s":"l0.5","x":7200,"y":6.61,"hi":6.66},{"s":"l0.5","x":7400,"y":6.58,"hi":6.63},{"s":"l0.5","x":7600,"y":6.58,"hi":6.64},{"s":"l0.5","x":7800,"y":6.55,"hi":6.62},
      {"s":"l0.5","x":8000,"y":6.55,"hi":6.59},{"s":"l0.5","x":8200,"y":6.53,"hi":6.60},{"s":"l0.5","x":8400,"y":6.53,"hi":6.58},{"s":"l0.5","x":8600,"y":6.51,"hi":6.56},{"s":"l0.5","x":8800,"y":6.51,"hi":6.57},{"s":"l0.5","x":9000,"y":6.48,"hi":6.54},{"s":"l0.5","x":9200,"y":6.49,"hi":6.54},{"s":"l0.5","x":9400,"y":6.47,"hi":6.52},{"s":"l0.5","x":9600,"y":6.47,"hi":6.53},{"s":"l0.5","x":9800,"y":6.45,"hi":6.52},{"s":"l0.5","x":10000,"y":6.46,"hi":6.50}
    ]
  }
}
